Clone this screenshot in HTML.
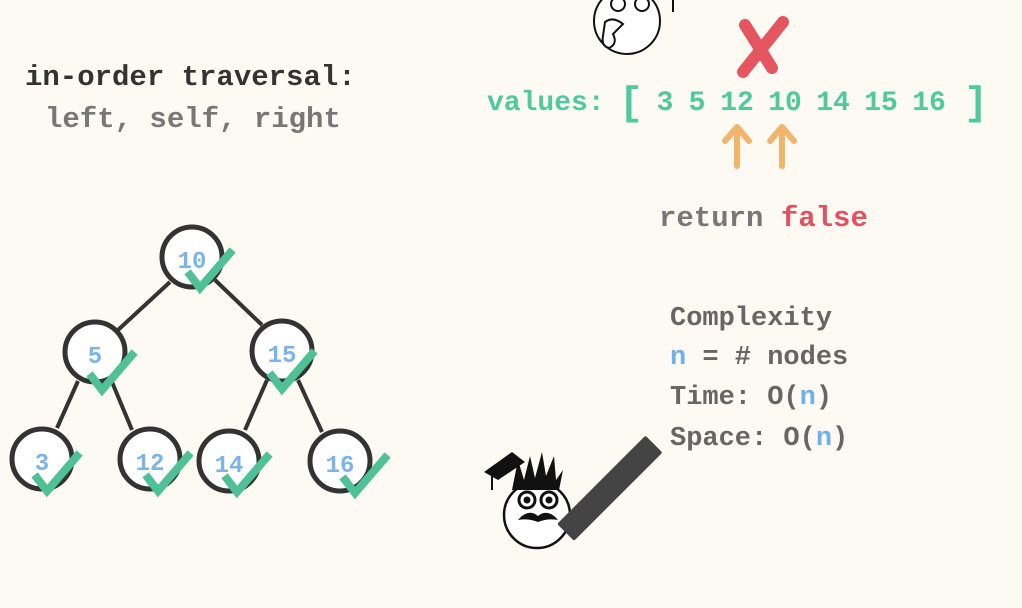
<!DOCTYPE html>
<html><head><meta charset="utf-8"><style>
html,body{margin:0;padding:0;background:#fdf9f3;}
svg{display:block}
text{font-family:"Liberation Mono",monospace;font-weight:bold;}
</style></head><body>
<svg width="1022" height="608" viewBox="0 0 1022 608">
<rect width="1022" height="608" fill="#fdf9f3"/>
<text x="25" y="85" font-size="29" fill="#333">in-order traversal:</text>
<text x="45" y="127" font-size="29" fill="#777">left, self, right</text>

<g stroke="#333" stroke-width="4" fill="none">
<line x1="170" y1="282" x2="118" y2="330"/>
<line x1="215" y1="280" x2="262" y2="325"/>
<line x1="78" y1="381" x2="57" y2="428"/>
<line x1="112" y1="382" x2="132" y2="430"/>
<line x1="267" y1="380" x2="245" y2="430"/>
<line x1="298" y1="380" x2="322" y2="432"/>
</g>
<g stroke="#333" stroke-width="5" fill="#fff">
<circle cx="192" cy="257" r="30"/>
<circle cx="95" cy="352" r="30"/>
<circle cx="282" cy="351" r="30"/>
<circle cx="42" cy="459" r="30"/>
<circle cx="150" cy="459" r="30"/>
<circle cx="229" cy="461" r="30"/>
<circle cx="340" cy="461" r="30"/>
</g>
<g font-size="24" fill="#7cb3ea" text-anchor="middle">
<text x="192" y="268">10</text>
<text x="95" y="363">5</text>
<text x="282" y="362">15</text>
<text x="42" y="470">3</text>
<text x="150" y="470">12</text>
<text x="229" y="472">14</text>
<text x="340" y="472">16</text>
</g>
<g stroke="#4fc196" stroke-width="8" fill="none" stroke-linecap="square">
<path d="M190 275 L200 288 L230 253"/>
<path d="M92 377 L102 390 L132 355"/>
<path d="M272 376 L282 389 L312 354"/>
<path d="M37 478 L47 491 L77 456"/>
<path d="M148 478 L158 491 L188 456"/>
<path d="M227 479 L237 492 L267 457"/>
<path d="M345 480 L355 493 L385 458"/>
</g>

<g stroke="#111" stroke-width="2" fill="#fff">
<circle cx="627" cy="21" r="33"/>
<path d="M605 22 q8 -6 18 2 l-10 10 q5 10 -4 14 q-8 -2 -6 -12z"/>
<circle cx="618" cy="4" r="7"/><circle cx="642" cy="4" r="7"/>
<line x1="673" y1="0" x2="673" y2="12"/>
</g>
<g stroke="#e55560" stroke-width="12" stroke-linecap="round">
<line x1="745" y1="25" x2="772" y2="68"/>
<line x1="783" y1="22" x2="743" y2="72"/>
</g>

<text x="487" y="110" font-size="28" fill="#4ec9a0">values:</text>
<text x="619" y="114" font-size="40" fill="#4ec9a0" font-weight="normal">[</text>
<text x="964" y="114" font-size="40" fill="#4ec9a0" font-weight="normal">]</text>
<g font-size="28" fill="#4ec9a0" text-anchor="middle">
<text x="665" y="110">3</text><text x="697" y="110">5</text>
<text x="737" y="110">12</text><text x="785" y="110">10</text>
<text x="833" y="110">14</text><text x="881" y="110">15</text>
<text x="929" y="110">16</text>
</g>
<g stroke="#f0b46a" stroke-width="6" fill="none" stroke-linecap="round" stroke-linejoin="round">
<line x1="737" y1="129" x2="737" y2="166"/><path d="M725 141 L737 127 L749 141"/>
<line x1="782" y1="129" x2="782" y2="166"/><path d="M770 141 L782 127 L794 141"/>
</g>
<text x="659" y="226" font-size="29" fill="#777">return <tspan fill="#e05262">false</tspan></text>

<g font-size="27" fill="#666">
<text x="670" y="325">Complexity</text>
<text x="670" y="364"><tspan fill="#6fb2ea">n</tspan> = # nodes</text>
<text x="670" y="404">Time: O(<tspan fill="#6fb2ea">n</tspan>)</text>
<text x="670" y="445">Space: O(<tspan fill="#6fb2ea">n</tspan>)</text>
</g>

<g stroke="#111" stroke-width="2.5" fill="#fff">
<circle cx="537" cy="515" r="33"/>
</g>
<path d="M512 490 l6 -30 l6 20 l6 -24 l5 22 l7 -26 l4 24 l8 -20 l2 24 l7 -10 l-4 20z" fill="#111"/>
<polygon points="484,472 512,452 525,462 498,480" fill="#111"/>
<line x1="492" y1="476" x2="492" y2="490" stroke="#111" stroke-width="2"/>
<g stroke="#111" stroke-width="3" fill="#fff"><circle cx="527" cy="500" r="8"/><circle cx="549" cy="500" r="8"/></g>
<circle cx="527" cy="500" r="3.5" fill="#111"/><circle cx="549" cy="500" r="3.5" fill="#111"/>
<path d="M518 520 q10 -12 20 -4 q10 -8 20 4 q-10 -2 -20 2 q-10 -4 -20 -2z" fill="#111"/>
<g transform="rotate(-45 608 490)"><rect x="548" y="478" width="125" height="24" fill="#444" rx="2"/></g>
</svg>
</body></html>
